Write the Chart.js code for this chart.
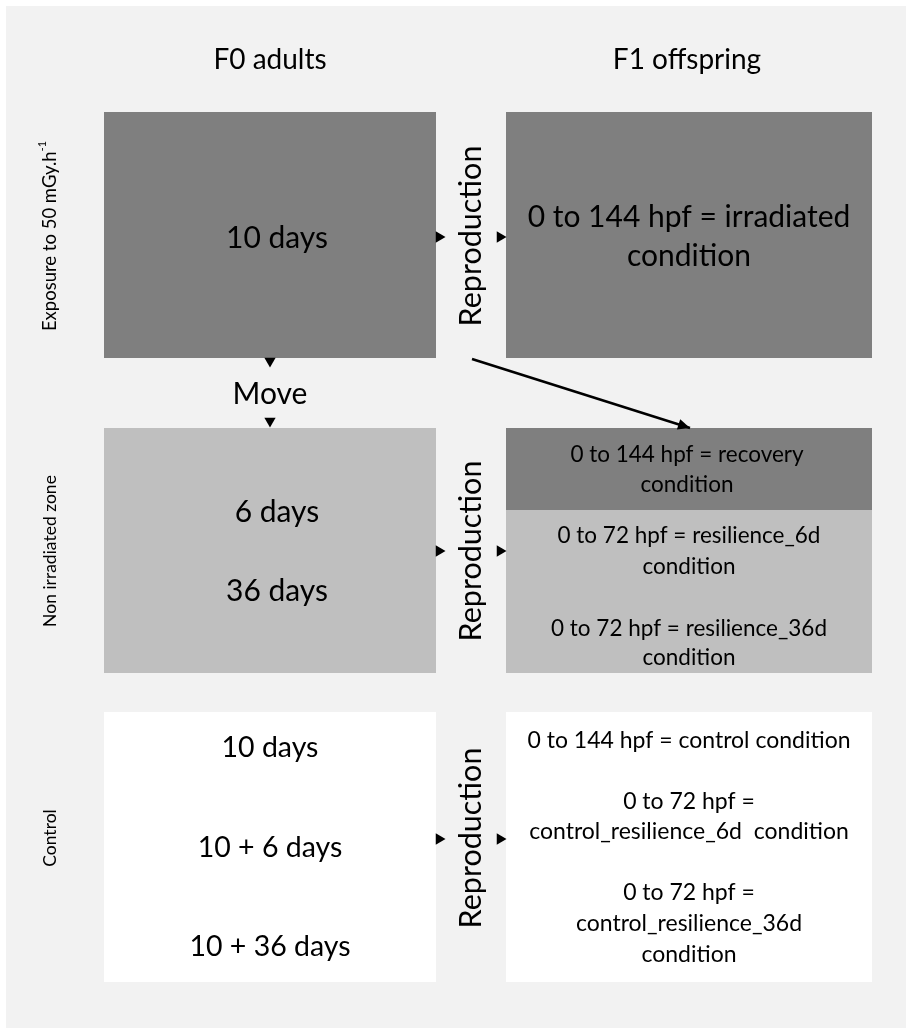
<!DOCTYPE html>
<html>
<head>
<meta charset="utf-8">
<script src="https://cdn.jsdelivr.net/npm/chart.js@4.4.1/dist/chart.umd.min.js"></script>
<style>
  html, body { margin: 0; padding: 0; background: #ffffff; overflow: hidden; }
  #wrap { width: 906px; height: 1028px; position: relative; }
  canvas { display: block; }
</style>
</head>
<body>
<div id="wrap"><canvas id="c"></canvas></div>
<script>
// ---------- content ----------
const columnTitles = ['F0 adults', 'F1 offspring'];
const rowLabels = ['Exposure to 50 mGy.h', 'Non irradiated zone', 'Control'];
const rowLabelSup = ['-1', '', ''];
const transferLabel = 'Reproduction';
const moveLabel = 'Move';
const f0Durations = [
  ['10 days'],
  ['6 days', '36 days'],
  ['10 days', '10 + 6 days', '10 + 36 days']
];
const f1Irradiated = ['0 to 144 hpf = irradiated', 'condition'];
const f1Recovery = ['0 to 144 hpf = recovery', 'condition'];
const f1Resilience = ['0 to 72 hpf = resilience_6d', 'condition', '0 to 72 hpf = resilience_36d', 'condition'];
const f1Control = ['0 to 144 hpf = control condition', '0 to 72 hpf =', 'control_resilience_6d  condition', '0 to 72 hpf =', 'control_resilience_36d', 'condition'];

// ---------- layout (diagram units = pixels of the 906x1028 frame) ----------
const COL = { l0: 104, r0: 436, l1: 506, r1: 872 };
const ROW = [ [112, 358], [428, 673], [712, 982] ];
const RECOVERY_SPLIT = 510;
const COLORS = { panel: '#f2f2f2', dark: '#7f7f7f', light: '#bfbfbf', white: '#ffffff', text: '#000000' };
const FONT = 'Lato, "Open Sans", sans-serif';

// boxes: [x0, y0, x1, y1, fill]
const boxes = [
  [COL.l0, ROW[0][0], COL.r0, ROW[0][1], COLORS.dark],
  [COL.l1, ROW[0][0], COL.r1, ROW[0][1], COLORS.dark],
  [COL.l0, ROW[1][0], COL.r0, ROW[1][1], COLORS.light],
  [COL.l1, ROW[1][0], COL.r1, ROW[1][1], COLORS.light],
  [COL.l1, ROW[1][0], COL.r1, RECOVERY_SPLIT, COLORS.dark],
  [COL.l0, ROW[2][0], COL.r0, ROW[2][1], COLORS.white],
  [COL.l1, ROW[2][0], COL.r1, ROW[2][1], COLORS.white]
];

// arrow heads (triangle markers) : x, y, rotation
const arrowPoints = [
  {x: 439, y: 237, r: 90}, {x: 500, y: 237, r: 90},
  {x: 439, y: 551, r: 90}, {x: 500, y: 551, r: 90},
  {x: 439, y: 839, r: 90}, {x: 500, y: 839, r: 90},
  {x: 270, y: 361, r: 180}, {x: 270, y: 421, r: 180}
];
const diagonal = [{x: 472, y: 359}, {x: 690, y: 428}];

// text items: [text, x, y, size]
const texts = [
  [columnTitles[0], 270, 60, 28],
  [columnTitles[1], 687, 60, 28],
  [f0Durations[0][0], 277, 238, 30],
  [f1Irradiated[0], 689, 217, 30],
  [f1Irradiated[1], 689, 256, 30],
  [moveLabel, 270, 394, 30],
  [f0Durations[1][0], 277, 512, 30],
  [f0Durations[1][1], 277, 591, 30],
  [f1Recovery[0], 687, 455, 22.5],
  [f1Recovery[1], 687, 485, 22.5],
  [f1Resilience[0], 689, 536, 22.5],
  [f1Resilience[1], 689, 567, 22.5],
  [f1Resilience[2], 689, 629, 22.5],
  [f1Resilience[3], 689, 658, 22.5],
  [f0Durations[2][0], 270, 748, 28.5],
  [f0Durations[2][1], 270, 848, 28.5],
  [f0Durations[2][2], 270, 947, 28.5],
  [f1Control[0], 689, 741, 23],
  [f1Control[1], 689, 802, 23],
  [f1Control[2], 689, 832, 23],
  [f1Control[3], 689, 893, 23],
  [f1Control[4], 689, 924, 23],
  [f1Control[5], 689, 955, 23]
];
// vertical texts: [text, sup, x, y, size]
const vtexts = [
  [transferLabel, '', 471, 236, 30.5],
  [transferLabel, '', 471, 551, 30.5],
  [transferLabel, '', 471, 838, 30.5],
  [rowLabels[0], rowLabelSup[0], 50, 236, 18.5],
  [rowLabels[1], rowLabelSup[1], 50, 551, 17.5],
  [rowLabels[2], rowLabelSup[2], 50, 838, 17.5]
];

const diagramPlugin = {
  id: 'diagram',
  beforeDraw(chart) {
    const {ctx, scales: {x, y}} = chart;
    const X = v => x.getPixelForValue(v), Y = v => y.getPixelForValue(v);
    ctx.save();
    ctx.fillStyle = '#ffffff';
    ctx.fillRect(0, 0, chart.width, chart.height);
    ctx.fillStyle = COLORS.panel;
    ctx.fillRect(X(6), Y(6), X(906) - X(6), Y(1028) - Y(6));
    boxes.forEach(b => {
      ctx.fillStyle = b[4];
      ctx.fillRect(X(b[0]), Y(b[1]), X(b[2]) - X(b[0]), Y(b[3]) - Y(b[1]));
    });
    ctx.restore();
  },
  afterDatasetsDraw(chart) {
    const {ctx, scales: {x, y}} = chart;
    const X = v => x.getPixelForValue(v), Y = v => y.getPixelForValue(v);
    ctx.save();
    // arrowhead of the diagonal
    const p0 = {x: X(diagonal[0].x), y: Y(diagonal[0].y)};
    const p1 = {x: X(diagonal[1].x), y: Y(diagonal[1].y)};
    const ang = Math.atan2(p1.y - p0.y, p1.x - p0.x);
    ctx.translate(p1.x, p1.y);
    ctx.rotate(ang);
    ctx.fillStyle = '#000';
    ctx.beginPath();
    ctx.moveTo(0, 0);
    ctx.lineTo(-12, -5.5);
    ctx.lineTo(-12, 5.5);
    ctx.closePath();
    ctx.fill();
    ctx.restore();

    ctx.save();
    ctx.fillStyle = COLORS.text;
    ctx.textAlign = 'center';
    ctx.textBaseline = 'middle';
    texts.forEach(t => {
      ctx.font = t[3] + 'px ' + FONT;
      ctx.fillText(t[0], X(t[1]), Y(t[2]));
    });
    vtexts.forEach(t => {
      ctx.save();
      ctx.translate(X(t[2]), Y(t[3]));
      ctx.rotate(-Math.PI / 2);
      ctx.font = t[4] + 'px ' + FONT;
      const w = ctx.measureText(t[0]).width;
      let sw = 0;
      const supFont = Math.round(t[4] * 0.62) + 'px ' + FONT;
      if (t[1]) { ctx.font = supFont; sw = ctx.measureText(t[1]).width; ctx.font = t[4] + 'px ' + FONT; }
      const total = w + sw;
      ctx.textAlign = 'left';
      ctx.fillText(t[0], -total / 2, 0);
      if (t[1]) {
        ctx.font = supFont;
        ctx.fillText(t[1], -total / 2 + w, -t[4] * 0.4);
      }
      ctx.restore();
    });
    ctx.restore();
  }
};

new Chart(document.getElementById('c'), {
  type: 'scatter',
  data: {
    datasets: [
      {
        label: 'arrows',
        data: arrowPoints.map(p => ({x: p.x, y: p.y})),
        pointStyle: 'triangle',
        rotation: arrowPoints.map(p => p.r),
        radius: 6.5,
        backgroundColor: '#000',
        borderColor: '#000',
        borderWidth: 0
      },
      {
        label: 'transfer',
        type: 'line',
        data: diagonal,
        borderColor: '#000',
        borderWidth: 2.5,
        pointRadius: 0,
        fill: false
      }
    ]
  },
  options: {
    responsive: true,
    maintainAspectRatio: false,
    animation: false,
    layout: { padding: 0, autoPadding: false },
    plugins: { legend: { display: false }, tooltip: { enabled: false } },
    scales: {
      x: { type: 'linear', min: 0, max: 906, display: false },
      y: { type: 'linear', min: 0, max: 1028, reverse: true, display: false }
    }
  },
  plugins: [diagramPlugin]
});
</script>
</body>
</html>
